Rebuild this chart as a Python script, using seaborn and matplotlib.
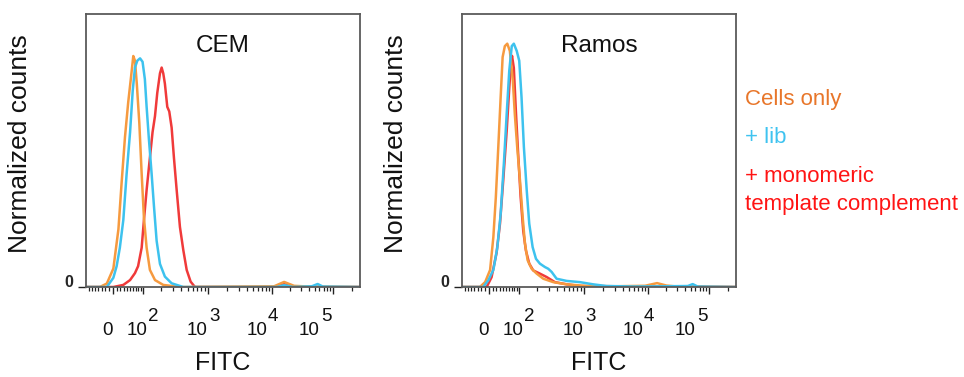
import numpy as np
import pandas as pd
import matplotlib
matplotlib.use("Agg")
import matplotlib.pyplot as plt
import seaborn as sns

# ---------------- data (FITC intensity vs. normalized count, % of mode) ----------------
panels = ["CEM", "Ramos"]
samples = ["Cells only", "+ lib", "+ monomeric template complement"]

cem_cells_x = [-80, -35, -16, 1, 15, 24, 34, 44, 55, 61, 67, 74, 84, 94, 104, 116, 132, 160, 216, 386,
               10800, 15800, 23000, 40000, 262000]
cem_cells_y = [0, 0, 1.5, 8, 25, 45, 65, 80, 93, 100, 98, 88, 71, 49, 30, 17, 7.4, 3, 0.9, 0,
               0.3, 2.2, 0.5, 0.2, 0]

cem_lib_x = [-80, -16, 1, 10, 19, 29, 39, 50, 59, 67, 76, 87, 98, 108, 116, 127, 141, 154, 170, 192, 229,
             290, 433, 12000, 15800, 22000, 45000, 56000, 68000, 262000]
cem_lib_y = [0, 0, 4, 9, 17, 29, 49, 67, 85, 95, 98, 99, 97.5, 90, 78, 64, 49, 35, 20, 10, 4.5,
             1.6, 0, 0, 0.8, 0, 0.3, 1.3, 0.2, 0]

cem_mono_x = [-80, 1, 29, 50, 67, 79, 94, 104, 116, 132, 146, 160, 174, 192, 204, 216, 229, 249, 267, 290,
              314, 345, 386, 433, 486, 556, 644, 11500, 15800, 21000, 262000]
cem_mono_y = [0, 0, 0.9, 3, 6, 9, 17, 29, 42, 56, 67, 74, 84, 92.5, 95, 92.5, 88, 78, 76, 69,
              56, 42, 26, 16, 7.4, 2.3, 0, 0, 1.3, 0, 0]

ramos_cells_x = [-80, -24, -10, 3, 12, 19, 26, 33, 39, 46, 54, 63, 74, 82, 92, 104, 116, 127, 141, 164,
                 197, 249, 352, 556, 1100, 3000, 9000, 14100, 20000, 30000, 262000]
ramos_cells_y = [0, 0, 2, 7, 20.5, 37, 57.5, 78, 94.5, 99, 100, 97, 85, 71, 57.5, 44, 29, 18, 11, 7.5,
                 5.5, 3.4, 2, 1.1, 0.4, 0.3, 0.5, 1.6, 0.6, 0.2, 0]

ramos_lib_x = [-80, -15, -2, 12, 23, 33, 43, 52, 61, 70, 78, 90, 101, 111, 122, 136, 150, 170, 192, 221,
               264, 296, 333, 395, 556, 872, 1390, 2235, 6000, 20000, 45000, 54000, 65000, 262000]
ramos_lib_y = [0, 0, 2.7, 7, 16, 30, 51, 71, 89, 99, 100, 97, 93, 78, 57.5, 40, 26, 16.4, 11.6, 9.6,
               8.2, 7.5, 6.2, 3.4, 2.5, 2, 1.1, 0.4, 0.2, 0.3, 0.4, 1.2, 0.2, 0]

ramos_mono_x = [-80, -6, 7, 21, 31, 41, 52, 61, 67, 71, 78, 87, 96, 107, 119, 132, 150, 174, 221, 280,
                373, 556, 872, 262000]
ramos_mono_y = [0, 0, 4, 14, 26, 44, 64, 82, 92, 95, 90, 71, 55, 37, 23, 15, 9.6, 6.8, 5.5, 4.1,
                2, 1.1, 0.4, 0]

y_top = [118.2, 112.2]          # normalized-count axis maximum per panel
x_range = [-80, 262000]

major_ticks = [0, 1e2, 1e3, 1e4, 1e5]
major_exp = ["", "2", "3", "4", "5"]
minor_ticks = ([-70, -60, -50, -40, -30, -20, -10, 10, 20, 30, 40, 50, 60, 70, 80, 90]
               + [k * 1e2 for k in range(2, 10)] + [k * 1e3 for k in range(2, 10)]
               + [k * 1e4 for k in range(2, 10)] + [2e5])

line_colors = {"Cells only": "#F69A3F", "+ lib": "#3DC2EE",
               "+ monomeric template complement": "#F03A3A"}
text_colors = {"Cells only": "#E8762A", "+ lib": "#3FC3F0",
               "+ monomeric template complement": "#FF1414"}

# ---------------- long-form tables ----------------
def table(panel, xs, ys):
    rows = []
    for s, x, y in zip(samples, xs, ys):
        rows.append(pd.DataFrame({"panel": panel, "sample": s, "FITC": x, "count": y}))
    return pd.concat(rows, ignore_index=True)

df = pd.concat([
    table("CEM", [cem_cells_x, cem_lib_x, cem_mono_x], [cem_cells_y, cem_lib_y, cem_mono_y]),
    table("Ramos", [ramos_cells_x, ramos_lib_x, ramos_mono_x], [ramos_cells_y, ramos_lib_y, ramos_mono_y]),
], ignore_index=True)

# ---------------- biexponential-like axis scale ----------------
C = 75.0
_anchor_fitc = np.array([-80, 0, 1e2, 1e3, 1e4, 1e5, 2.62e5])
_anchor_pos = np.array([0, 27, 57, 122, 186, 247, 274]) / 274.0
_A = np.arcsinh(_anchor_fitc / C)


def _fwd(x):
    a = np.arcsinh(np.asarray(x, dtype=float) / C)
    out = np.interp(a, _A, _anchor_pos)
    sl = (_anchor_pos[1] - _anchor_pos[0]) / (_A[1] - _A[0])
    sh = (_anchor_pos[-1] - _anchor_pos[-2]) / (_A[-1] - _A[-2])
    out = np.where(a < _A[0], _anchor_pos[0] + (a - _A[0]) * sl, out)
    out = np.where(a > _A[-1], _anchor_pos[-1] + (a - _A[-1]) * sh, out)
    return out


def _inv(p):
    p = np.asarray(p, dtype=float)
    a = np.interp(p, _anchor_pos, _A)
    sl = (_A[1] - _A[0]) / (_anchor_pos[1] - _anchor_pos[0])
    sh = (_A[-1] - _A[-2]) / (_anchor_pos[-1] - _anchor_pos[-2])
    a = np.where(p < _anchor_pos[0], _A[0] + (p - _anchor_pos[0]) * sl, a)
    a = np.where(p > _anchor_pos[-1], _A[-1] + (p - _anchor_pos[-1]) * sh, a)
    return C * np.sinh(a)


# ---------------- figure ----------------
sns.set_theme(style="ticks")
plt.rcParams["font.family"] = ["Liberation Sans", "DejaVu Sans"]

DPI = 100
fig = plt.figure(figsize=(9.64, 3.77), dpi=DPI)
px = 72.0 / DPI  # points per pixel

ax_pos = [[86 / 964, 90 / 377, 274 / 964, 273 / 377],
          [462 / 964, 90 / 377, 274 / 964, 273 / 377]]

# label offsets (px) relative to each major tick: "10" right edge, exponent left edge
base_dx = [0, 4, 0, -5, -13]
exp_dx = [0, 5, 1, -4, -12]

for i, panel in enumerate(panels):
    ax = fig.add_axes(ax_pos[i])
    ax.set_xscale("function", functions=(_fwd, _inv))
    sub = df[df["panel"] == panel]
    sns.lineplot(data=sub, x="FITC", y="count", hue="sample",
                 hue_order=["+ monomeric template complement", "Cells only", "+ lib"],
                 palette=line_colors, estimator=None, sort=False, linewidth=1.8,
                 legend=False, ax=ax)
    ax.set_xlim(*x_range)
    ax.set_ylim(0, y_top[i])

    for sp in ax.spines.values():
        sp.set_visible(True)
        sp.set_color("#5a5a5a")
        sp.set_linewidth(1.3)

    ax.set_xticks(major_ticks)
    ax.set_xticks(minor_ticks, minor=True)
    ax.tick_params(axis="x", which="major", direction="out", length=7 * px, width=1.0,
                   color="#222222", labelbottom=False, bottom=True, top=False)
    ax.tick_params(axis="x", which="minor", direction="out", length=4 * px, width=0.9,
                   color="#222222", bottom=True, top=False)
    ax.set_yticks([0])
    ax.set_yticklabels(["0"])
    ax.yaxis.set_minor_locator(matplotlib.ticker.NullLocator())
    ax.tick_params(axis="y", which="major", direction="out", length=8 * px, width=1.0,
                   color="#222222", pad=5 * px, labelsize=11.5, left=True, right=False)
    for lbl in ax.get_yticklabels():
        lbl.set_verticalalignment("baseline")
        lbl.set_fontweight("bold")

    # x tick labels (0, 10^2 ... 10^5) with large exponents
    for t, e, bdx, edx in zip(major_ticks, major_exp, base_dx, exp_dx):
        base = "0" if e == "" else "10"
        ax.annotate(base, xy=(t, 0), xycoords=("data", "axes fraction"),
                    xytext=(bdx * px, -48 * px), textcoords="offset points",
                    ha="right", va="baseline", fontsize=13.5, color="#111111",
                    annotation_clip=False)
        if e:
            ax.annotate(e, xy=(t, 0), xycoords=("data", "axes fraction"),
                        xytext=(edx * px, -34 * px), textcoords="offset points",
                        ha="left", va="baseline", fontsize=13.5, color="#111111",
                        annotation_clip=False)

    ax.set_xlabel("FITC", fontsize=18, color="#111111")
    ax.xaxis.set_label_coords(0.5, -64 / 273)
    ax.set_ylabel("Normalized counts", fontsize=19, color="#111111")
    ax.yaxis.set_label_coords(-54 / 274, 0.525)
    ax.text(0.5, (287 - 51.7) / 273, panel, transform=ax.transAxes, ha="center",
            va="baseline", fontsize=17.5, color="#111111")

# legend as coloured text
legend_lines = [("Cells only", "Cells only", 105),
                ("+ lib", "+ lib", 143.3),
                ("+ monomeric", "+ monomeric template complement", 181.7),
                ("template complement", "+ monomeric template complement", 210)]
for txt, key, base_y in legend_lines:
    fig.text(745 / 964, 1 - base_y / 377, txt, color=text_colors[key], fontsize=16,
             ha="left", va="baseline")

fig.savefig("out.png", dpi=DPI)
